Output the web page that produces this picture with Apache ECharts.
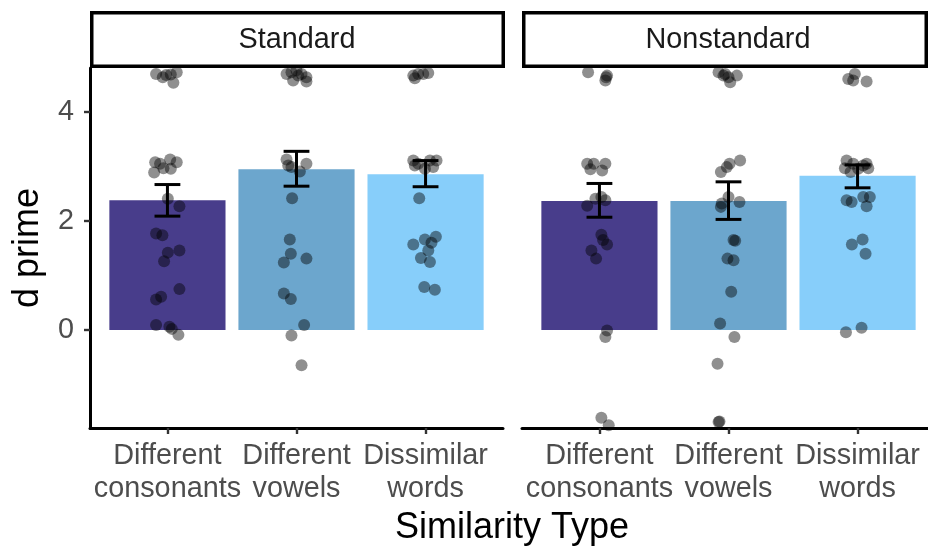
<!DOCTYPE html>
<html>
<head>
<meta charset="utf-8">
<script src="https://cdn.jsdelivr.net/npm/echarts@6/dist/echarts.min.js"></script>
<style>
  html, body { margin: 0; padding: 0; background: #fff; }
  #chart { width: 928px; height: 548px; }
</style>
</head>
<body>
<div id="chart"></div>
<script>
// ---------------- DATA ----------------
const categories = ['Different\nconsonants', 'Different\nvowels', 'Dissimilar\nwords'];
const facets = ['Standard', 'Nonstandard'];
const yTicks = [0, 2, 4];

// bar means
const standardMeans = [2.38, 2.95, 2.86];
const nonstandardMeans = [2.37, 2.37, 2.83];
// error bar limits
const standardLow = [2.09, 2.64, 2.63];
const standardHigh = [2.67, 3.28, 3.11];
const nonstandardLow = [2.07, 2.03, 2.61];
const nonstandardHigh = [2.69, 2.72, 3.03];

// individual points: values and horizontal jitter (in category units)
const stdConsVals = [4.70, 4.64, 4.69, 4.73, 4.54, 4.68, 3.08, 3.05, 3.13, 3.08, 2.96, 2.89, 2.97, 2.41, 2.27, 1.77, 1.74, 1.42, 1.46, 1.26, 0.75, 0.56, 0.61, 0.09, 0.06, 0.02, -0.09];
const stdConsJit  = [-0.088, -0.036, 0.026, 0.072, 0.046, -0.010, -0.095, -0.057, 0.021, 0.072, 0.026, -0.103, -0.031, 0.003, 0.093, -0.088, -0.039, 0.003, 0.093, -0.026, 0.093, -0.088, -0.049, -0.088, 0.015, 0.034, 0.085];

const stdVowVals = [4.70, 4.73, 4.77, 4.70, 4.58, 4.64, 4.56, 4.67, 3.13, 3.05, 3.02, 2.99, 2.91, 2.42, 1.66, 1.40, 1.24, 1.31, 0.67, 0.57, 0.09, -0.10, -0.65];
const stdVowJit  = [-0.077, -0.039, 0.000, 0.039, -0.026, 0.077, 0.077, 0.013, -0.077, 0.077, -0.064, -0.039, 0.026, -0.034, -0.052, -0.044, -0.098, 0.077, -0.098, -0.044, 0.059, -0.039, 0.039];

const stdWordVals = [4.67, 4.70, 4.70, 4.72, 4.62, 3.11, 3.05, 2.96, 3.11, 3.11, 2.99, 3.02, 2.42, 1.57, 1.66, 1.71, 1.60, 1.46, 1.32, 1.25, 0.79, 0.74];
const stdWordJit  = [-0.095, -0.057, -0.018, 0.021, -0.083, -0.095, -0.057, -0.005, 0.034, 0.085, 0.059, -0.083, -0.049, -0.095, -0.005, 0.080, 0.046, 0.021, -0.036, 0.034, -0.010, 0.072];

const nonConsVals = [4.73, 4.67, 4.58, 4.64, 3.05, 3.05, 3.05, 2.95, 2.93, 2.41, 2.44, 2.38, 2.28, 1.75, 1.65, 1.57, 1.46, 1.31, -0.01, -0.13, -1.61, -1.75];
const nonConsJit  = [-0.088, 0.059, 0.046, 0.052, -0.095, -0.044, 0.046, -0.070, 0.021, -0.031, 0.015, 0.046, -0.095, 0.015, 0.028, 0.059, -0.062, -0.026, 0.059, 0.046, 0.015, 0.072];

const nonVowVals = [4.73, 4.67, 4.64, 4.67, 4.55, 4.70, 3.11, 3.05, 2.99, 2.90, 2.44, 2.35, 2.26, 2.32, 1.65, 1.64, 1.31, 1.28, 0.70, 0.12, -0.13, -0.62, -1.68, -1.69];
const nonVowJit  = [-0.077, -0.039, 0.000, 0.065, 0.013, -0.026, 0.090, 0.008, -0.013, -0.059, 0.000, 0.085, -0.059, -0.052, 0.039, 0.052, -0.008, 0.039, 0.021, -0.065, 0.046, -0.085, -0.070, -0.077];

const nonWordVals = [4.61, 4.70, 4.58, 4.56, 3.11, 3.05, 3.02, 2.97, 2.97, 2.90, 2.96, 3.05, 2.38, 2.35, 2.44, 2.44, 2.27, 1.66, 1.57, 1.40, 0.04, -0.04];
const nonWordJit  = [-0.072, -0.021, -0.034, 0.070, -0.085, -0.034, 0.044, 0.083, -0.098, -0.054, 0.005, 0.070, -0.085, -0.046, 0.044, 0.095, 0.070, 0.039, -0.044, 0.062, 0.031, -0.090];

// ---------------- STYLE ----------------
const FONT = '"Liberation Sans", Arial, Helvetica, sans-serif';
const barColors = ['#483D8B', '#6CA6CD', '#87CEFA'];

const panels = [
  { means: standardMeans, low: standardLow, high: standardHigh,
    pts: [[stdConsVals, stdConsJit], [stdVowVals, stdVowJit], [stdWordVals, stdWordJit]] },
  { means: nonstandardMeans, low: nonstandardLow, high: nonstandardHigh,
    pts: [[nonConsVals, nonConsJit], [nonVowVals, nonVowJit], [nonWordVals, nonWordJit]] }
];

const grids = [
  { left: 90, top: 68, width: 413, height: 360, containLabel: false, outerBoundsMode: 'none' },
  { left: 522, top: 68, width: 413, height: 360, containLabel: false, outerBoundsMode: 'none' }
];

const xAxes = grids.map((g, gi) => ({
  type: 'value', gridIndex: gi, min: 0.4, max: 3.6,
  axisLine: { show: true, onZero: false, lineStyle: { color: '#000', width: 3 } },
  axisTick: { show: true, customValues: [1, 2, 3], length: 6, lineStyle: { color: '#333', width: 2.4 } },
  axisLabel: {
    customValues: [1, 2, 3],
    formatter: v => categories[Math.round(v) - 1] || '',
    color: '#4d4d4d', fontSize: 28.8, fontFamily: FONT, lineHeight: 32.7, margin: 12, align: 'center'
  },
  splitLine: { show: false }
}));

const yAxes = grids.map((g, gi) => ({
  type: 'value', gridIndex: gi, min: -1.8, max: 4.81,
  axisLine: { show: gi === 0, onZero: false, lineStyle: { color: '#000', width: 3 } },
  axisTick: { show: gi === 0, customValues: yTicks, length: 6, lineStyle: { color: '#333', width: 2.4 } },
  axisLabel: { show: gi === 0, customValues: yTicks, color: '#4d4d4d', fontSize: 28.8, fontFamily: FONT, margin: 16 },
  splitLine: { show: false },
  name: gi === 0 ? 'd prime' : '',
  nameLocation: 'middle', nameRotate: 90, nameGap: 44,
  nameTextStyle: { color: '#000', fontSize: 36, fontFamily: FONT }
}));

const series = [];
panels.forEach((p, gi) => {
  series.push({
    type: 'custom', xAxisIndex: gi, yAxisIndex: gi, z: 1, silent: true,
    data: p.means.map((m, i) => [i + 1, m, i]),
    renderItem: (params, api) => {
      const x = api.value(0), y = api.value(1);
      const a = api.coord([x - 0.45, y]);
      const b = api.coord([x + 0.45, 0]);
      return { type: 'rect', shape: { x: a[0], y: a[1], width: b[0] - a[0], height: b[1] - a[1] },
               style: { fill: barColors[api.value(2)] } };
    }
  });
  const pts = [];
  p.pts.forEach((pair, i) => {
    pair[0].forEach((v, k) => pts.push([i + 1 + pair[1][k], v]));
  });
  series.push({
    type: 'scatter', xAxisIndex: gi, yAxisIndex: gi, z: 2, silent: true,
    symbol: 'circle', symbolSize: 12,
    itemStyle: { color: 'rgba(0,0,0,0.55)', borderWidth: 0 },
    data: pts
  });
  series.push({
    type: 'custom', xAxisIndex: gi, yAxisIndex: gi, z: 3, silent: true,
    data: p.low.map((lo, i) => [i + 1, lo, p.high[i]]),
    renderItem: (params, api) => {
      const x = api.value(0), lo = api.value(1), hi = api.value(2);
      const t = api.coord([x, hi]), b = api.coord([x, lo]);
      const tl = api.coord([x - 0.1, hi]), tr = api.coord([x + 0.1, hi]);
      const bl = api.coord([x - 0.1, lo]), br = api.coord([x + 0.1, lo]);
      const st = { stroke: '#000', lineWidth: 3 };
      return { type: 'group', children: [
        { type: 'line', shape: { x1: t[0], y1: t[1], x2: b[0], y2: b[1] }, style: st },
        { type: 'line', shape: { x1: tl[0], y1: tl[1], x2: tr[0], y2: tr[1] }, style: st },
        { type: 'line', shape: { x1: bl[0], y1: bl[1], x2: br[0], y2: br[1] }, style: st }
      ] };
    }
  });
});

const option = {
  animation: false,
  backgroundColor: '#fff',
  textStyle: { fontFamily: FONT },
  grid: grids,
  xAxis: xAxes,
  yAxis: yAxes,
  series: series,
  graphic: [
    { type: 'rect', z: 100, shape: { x: 91.75, y: 12.75, width: 411.5, height: 53.5 },
      style: { fill: '#fff', stroke: '#000', lineWidth: 3.5 } },
    { type: 'text', z: 101, x: 297, y: 40,
      style: { text: facets[0], fill: '#1a1a1a', font: '28.8px ' + FONT, align: 'center', verticalAlign: 'middle' } },
    { type: 'rect', z: 100, shape: { x: 523.75, y: 12.75, width: 402.5, height: 53.5 },
      style: { fill: '#fff', stroke: '#000', lineWidth: 3.5 } },
    { type: 'text', z: 101, x: 728, y: 40,
      style: { text: facets[1], fill: '#1a1a1a', font: '28.8px ' + FONT, align: 'center', verticalAlign: 'middle' } },
    { type: 'text', z: 101, x: 512, y: 528,
      style: { text: 'Similarity Type', fill: '#000', font: '36px ' + FONT, align: 'center', verticalAlign: 'middle' } }
  ]
};

const chart = echarts.init(document.getElementById('chart'), null, { renderer: 'canvas' });
chart.setOption(option);
</script>
</body>
</html>
